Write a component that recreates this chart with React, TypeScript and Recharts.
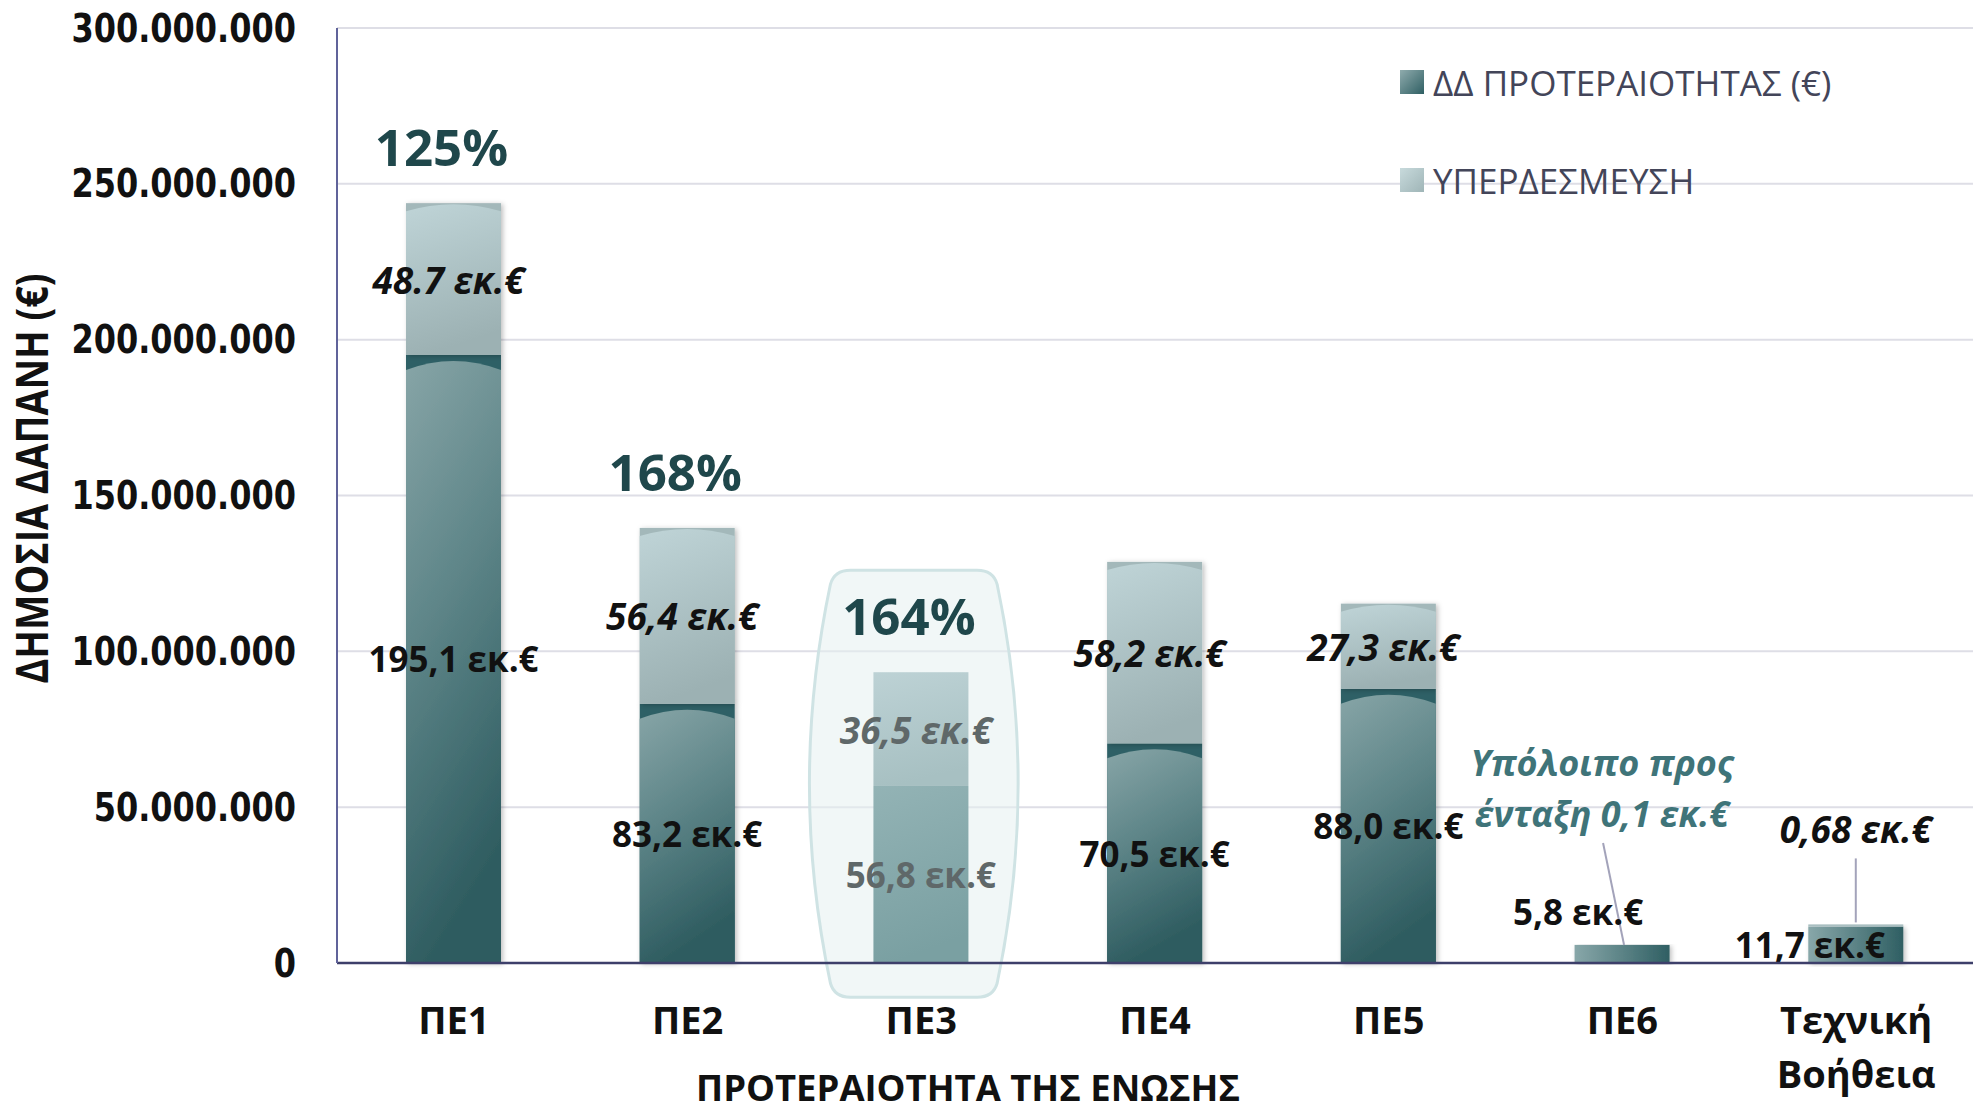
import React from 'react';
import { BarChart, Bar, XAxis, YAxis, CartesianGrid, ReferenceArea, Legend } from 'recharts';

document.body.style.margin = '0';

// values in millions of euro
const categories = ['ΠΕ1', 'ΠΕ2', 'ΠΕ3', 'ΠΕ4', 'ΠΕ5', 'ΠΕ6', 'Τεχνική Βοήθεια'];
const priorityBudget = [195.1, 83.2, 56.8, 70.5, 88.0, 5.8, 11.7];
const overCommitment = [48.7, 56.4, 36.5, 58.2, 27.3, 0, 0.68];
const priorityLabels = ['195,1 εκ.€', '83,2 εκ.€', '56,8 εκ.€', '70,5 εκ.€', '88,0 εκ.€', '5,8 εκ.€', '11,7 εκ.€'];
const overLabels = ['48.7 εκ.€', '56,4 εκ.€', '36,5 εκ.€', '58,2 εκ.€', '27,3 εκ.€', '', '0,68 εκ.€'];
const coverage = ['125%', '168%', '164%', '', '', '', ''];
const yTicks = [0, 50e6, 100e6, 150e6, 200e6, 250e6, 300e6];
const remainderNote = ['Υπόλοιπο προς', 'ένταξη 0,1 εκ.€'];
const highlighted = 'ΠΕ3';

const data = categories.map((name, i) => ({
    name,
    main: priorityBudget[i] * 1e6,
    over: overCommitment[i] * 1e6,
    mainLabel: priorityLabels[i],
    overLabel: overLabels[i],
    pct: coverage[i],
}));

const FONT = '"Open Sans", "Noto Sans", sans-serif';

const fmt = (v: number) => String(v).replace(/\B(?=(\d{3})+(?!\d))/g, '.');

const MainShape = (props: any) => {
    const { x, y, width: w, height: h, payload } = props;
    if (h == null || isNaN(h)) return null;
    const faded = payload.name === highlighted;
    const cx = x + w / 2;
    let bar;
    if (faded) {
        bar = <rect x={x} y={y} width={w} height={h} fill="url(#mainFaded)" />;
    } else if (h < 60) {
        bar = <rect x={x} y={y} width={w} height={h} fill="url(#mainSmall)" filter="url(#barShadow)" />;
    } else {
        bar = (
            <g filter="url(#barShadow)">
                <rect x={x} y={y} width={w} height={h} fill="#2f6166" />
                <path
                    d={`M${x},${y + h} L${x},${y + 15} Q${cx},${y - 3} ${x + w},${y + 15} L${x + w},${y + h} Z`}
                    fill="url(#mainGrad)"
                />
            </g>
        );
    }
    const color = faded ? '#5f6869' : '#111';
    let label;
    if (payload.name === 'ΠΕ6') {
        label = (
            <g>
                <line x1={cx + 2} y1={y} x2={cx - 19} y2={y - 102} stroke="#a3a3ba" strokeWidth={2} />
                <text x={cx - 44} y={y - 33} textAnchor="middle" dominantBaseline="central"
                    fontFamily={FONT} fontWeight={700} fontSize={35} fill={color}>{payload.mainLabel}</text>
                {remainderNote.map((t, i) => (
                    <text key={i} x={cx - 20} y={y - 182 + i * 51} textAnchor="middle" dominantBaseline="central"
                        fontFamily={FONT} fontWeight={700} fontStyle="italic" fontSize={36} fill="#3f7479">{t}</text>
                ))}
            </g>
        );
    } else if (payload.name === 'Τεχνική Βοήθεια') {
        label = (
            <text x={cx - 46} y={y + h / 2} textAnchor="middle" dominantBaseline="central"
                fontFamily={FONT} fontWeight={700} fontSize={35} fill={color}>{payload.mainLabel}</text>
        );
    } else {
        label = (
            <text x={cx} y={y + h / 2} textAnchor="middle" dominantBaseline="central"
                fontFamily={FONT} fontWeight={700} fontSize={35} fill={color}>{payload.mainLabel}</text>
        );
    }
    return <g>{bar}{label}</g>;
};

const OverShape = (props: any) => {
    const { x, y, width: w, height: h, payload } = props;
    if (h == null || isNaN(h)) return null;
    const faded = payload.name === highlighted;
    const cx = x + w / 2;
    const color = faded ? '#5f6869' : '#111';
    let bar = null;
    if (h > 0) {
        if (faded) {
            bar = <rect x={x} y={y} width={w} height={h} fill="url(#overFaded)" />;
        } else if (h < 20) {
            bar = <rect x={x} y={y} width={w} height={h} fill="#a9bfc1" />;
        } else {
            bar = (
                <g filter="url(#barShadow)">
                    <rect x={x} y={y} width={w} height={h} fill="#a3b8ba" />
                    <path
                        d={`M${x},${y + h} L${x},${y + 8} Q${cx},${y - 6} ${x + w},${y + 8} L${x + w},${y + h} Z`}
                        fill="url(#overGrad)"
                    />
                </g>
            );
        }
    }
    let label = null;
    if (payload.name === 'Τεχνική Βοήθεια') {
        label = (
            <g>
                <line x1={cx} y1={y - 2} x2={cx} y2={y - 66} stroke="#a3a3ba" strokeWidth={2} />
                <text x={cx} y={y - 96} textAnchor="middle" dominantBaseline="central"
                    fontFamily={FONT} fontWeight={700} fontStyle="italic" fontSize={37} fill={color}>{payload.overLabel}</text>
            </g>
        );
    } else if (payload.overLabel) {
        label = (
            <text x={cx - 5} y={y + h / 2} textAnchor="middle" dominantBaseline="central"
                fontFamily={FONT} fontWeight={700} fontStyle="italic" fontSize={37} fill={color}>{payload.overLabel}</text>
        );
    }
    const pct = payload.pct ? (
        <text x={cx - 12} y={y - 57} textAnchor="middle" dominantBaseline="central"
            fontFamily={FONT} fontWeight={700} fontSize={51} fill="#1f474b">{payload.pct}</text>
    ) : null;
    return <g>{bar}{label}{pct}</g>;
};

const HighlightShape = (props: any) => {
    const { x, y, width, height } = props;
    const x0 = x + 6;
    const x1 = x + width - 21;
    const T = y;
    const B = y + height;
    const mid = (T + B) / 2;
    const d = [
        `M${x0 + 40},${T}`,
        `L${x1 - 40},${T}`,
        `Q${x1 - 24},${T} ${x1 - 20},${T + 14}`,
        `Q${x1 + 22},${mid} ${x1 - 20},${B - 14}`,
        `Q${x1 - 24},${B} ${x1 - 40},${B}`,
        `L${x0 + 40},${B}`,
        `Q${x0 + 24},${B} ${x0 + 20},${B - 14}`,
        `Q${x0 - 22},${mid} ${x0 + 20},${T + 14}`,
        `Q${x0 + 24},${T} ${x0 + 40},${T}`,
        'Z',
    ].join(' ');
    return <path d={d} fill="#e6f0f1" fillOpacity={0.55} stroke="#cfe3e4" strokeWidth={3} />;
};

const YTick = (props: any) => {
    const { x, y, payload } = props;
    return (
        <text transform={`translate(${x},${y}) scale(1,1.2)`} textAnchor="end" dominantBaseline="central"
            fontFamily='"DejaVu Sans", sans-serif' fontWeight={700} fontSize={32} fill="#111">
            {fmt(payload.value)}
        </text>
    );
};

const XTick = (props: any) => {
    const { x, y, payload } = props;
    const lines = String(payload.value).split(' ');
    return (
        <g>
            {lines.map((t, i) => (
                <text key={i} x={x} y={y + 56 + i * 54} textAnchor="middle" dominantBaseline="central"
                    fontFamily={FONT} fontWeight={700} fontSize={38} fill="#111">{t}</text>
            ))}
        </g>
    );
};

const LegendContent = (props: any) => {
    const swatches: Record<string, string> = {
        main: 'linear-gradient(135deg, #8fabad 0%, #2f5f63 100%)',
        over: 'linear-gradient(135deg, #c8dadc 0%, #9fb5b7 100%)',
    };
    return (
        <div>
            {(props.payload || []).map((entry: any) => (
                <div key={entry.value} style={{ display: 'flex', alignItems: 'center', height: 98 }}>
                    <span style={{ width: 24, height: 24, background: swatches[entry.dataKey] || entry.color, display: 'inline-block' }} />
                    <span style={{ marginLeft: 9, fontFamily: FONT, fontSize: 35, color: '#434559', whiteSpace: 'nowrap' }}>{entry.value}</span>
                </div>
            ))}
        </div>
    );
};

export default function App() {
    return (
        <div style={{ width: 1978, height: 1112, background: '#fff', overflow: 'hidden', position: 'relative' }}>
            <BarChart width={1978} height={1112} data={data} margin={{ top: 28, right: 5, left: 0, bottom: 0 }} barSize={95}>
                <defs>
                    <filter id="barShadow" x="-10%" y="-5%" width="125%" height="115%">
                        <feDropShadow dx="2" dy="1" stdDeviation="2.5" floodColor="#000" floodOpacity="0.25" />
                    </filter>
                    <linearGradient id="mainGrad" x1="0" y1="0" x2="0.25" y2="1">
                        <stop offset="0%" stopColor="#87a5a7" />
                        <stop offset="45%" stopColor="#5f8689" />
                        <stop offset="100%" stopColor="#2e5c60" />
                    </linearGradient>
                    <linearGradient id="mainSmall" x1="0" y1="0" x2="1" y2="0">
                        <stop offset="0%" stopColor="#88a7a9" />
                        <stop offset="100%" stopColor="#2f5f63" />
                    </linearGradient>
                    <linearGradient id="mainFaded" x1="0" y1="0" x2="0.2" y2="1">
                        <stop offset="0%" stopColor="#93b3b5" />
                        <stop offset="100%" stopColor="#7aa0a2" />
                    </linearGradient>
                    <linearGradient id="overGrad" x1="0" y1="0" x2="0.2" y2="1">
                        <stop offset="0%" stopColor="#bfd4d7" />
                        <stop offset="100%" stopColor="#9cb1b3" />
                    </linearGradient>
                    <linearGradient id="overFaded" x1="0" y1="0" x2="0.2" y2="1">
                        <stop offset="0%" stopColor="#bdd2d5" />
                        <stop offset="100%" stopColor="#a7c0c2" />
                    </linearGradient>
                </defs>
                <CartesianGrid vertical={false} stroke="#dedee6" strokeWidth={2} />
                <XAxis
                    dataKey="name"
                    interval={0}
                    height={149}
                    tickSize={0}
                    tickMargin={0}
                    tick={<XTick />}
                    axisLine={{ stroke: '#3d3f6a', strokeWidth: 2.5 }}
                    tickLine={false}
                    label={{
                        content: (p: any) => {
                            const vb = p.viewBox || { x: 337, y: 963 };
                            return (
                                <text x={vb.x + 631} y={vb.y + 124} textAnchor="middle" dominantBaseline="central"
                                    fontFamily={FONT} fontWeight={700} fontSize={36} fill="#111"
                                    textLength={544} lengthAdjust="spacingAndGlyphs">ΠΡΟΤΕΡΑΙΟΤΗΤΑ ΤΗΣ ΕΝΩΣΗΣ</text>
                            );
                        },
                    }}
                />
                <YAxis
                    width={337}
                    domain={[0, 300e6]}
                    ticks={yTicks}
                    interval={0}
                    tickSize={0}
                    tickMargin={41}
                    tick={<YTick />}
                    axisLine={{ stroke: '#60639a', strokeWidth: 2 }}
                    tickLine={false}
                    label={{
                        content: (p: any) => {
                            const vb = p.viewBox || { x: 0, y: 28, height: 935 };
                            const cx = vb.x + 31;
                            const cy = vb.y + vb.height / 2 - 17;
                            return (
                                <text x={cx} y={cy} transform={`rotate(-90, ${cx}, ${cy})`} textAnchor="middle" dominantBaseline="central"
                                    fontFamily={FONT} fontWeight={700} fontSize={44} fill="#111"
                                    textLength={410} lengthAdjust="spacingAndGlyphs">ΔΗΜΟΣΙΑ ΔΑΠΑΝΗ (€)</text>
                            );
                        },
                    }}
                />
                <ReferenceArea x1={highlighted} x2={highlighted} y1={-11e6} y2={126e6} ifOverflow="visible" shape={<HighlightShape />} />
                <Bar dataKey="main" name="ΔΔ ΠΡΟΤΕΡΑΙΟΤΗΤΑΣ (€)" stackId="a" fill="#2f5f63" shape={<MainShape />} isAnimationActive={false} />
                <Bar dataKey="over" name="ΥΠΕΡΔΕΣΜΕΥΣΗ" stackId="a" fill="#b0c6c8" shape={<OverShape />} isAnimationActive={false} />
                <Legend
                    layout="horizontal"
                    verticalAlign="middle"
                    align="center"
                    content={<LegendContent />}
                    wrapperStyle={{ left: 1400, top: 33, width: 560, height: 196 }}
                />
            </BarChart>
        </div>
    );
}
